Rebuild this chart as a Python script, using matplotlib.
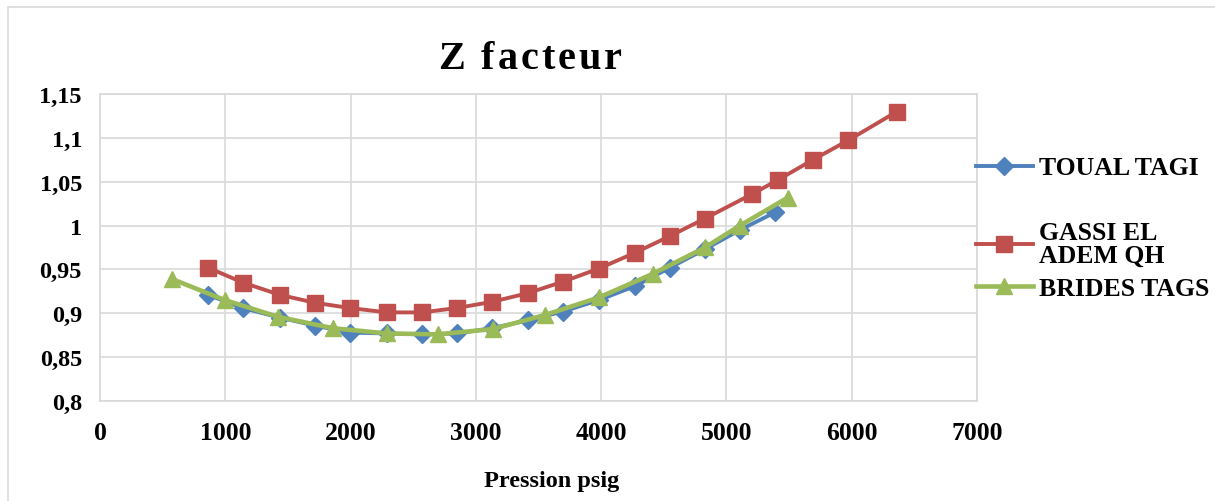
import matplotlib
matplotlib.use("Agg")
import matplotlib.pyplot as plt
from matplotlib.patches import Rectangle
from matplotlib.font_manager import FontProperties, findfont, get_font

# ---- data ----
toual_p = [862, 1141, 1436, 1716, 1995, 2290, 2570, 2849, 3128, 3416, 3695, 3982, 4270, 4549, 4828, 5108, 5387]
toual_z = [0.921, 0.906, 0.895, 0.886, 0.878, 0.877, 0.876, 0.877, 0.883, 0.892, 0.902, 0.915, 0.931, 0.952, 0.973, 0.995, 1.015]

gassi_p = [862, 1141, 1436, 1716, 1995, 2290, 2570, 2849, 3128, 3416, 3695, 3982, 4270, 4549, 4828, 5207, 5411, 5690, 5970, 6361]
gassi_z = [0.952, 0.935, 0.921, 0.912, 0.906, 0.901, 0.901, 0.906, 0.913, 0.923, 0.936, 0.951, 0.969, 0.988, 1.008, 1.036, 1.052, 1.075, 1.097, 1.130]

brides_p = [575, 998, 1420, 1860, 2290, 2697, 3135, 3551, 3982, 4413, 4828, 5108, 5491]
brides_z = [0.939, 0.915, 0.896, 0.883, 0.877, 0.876, 0.882, 0.898, 0.918, 0.945, 0.975, 1.000, 1.032]

series_names = ["TOUAL TAGI", "GASSI EL\nADEM QH", "BRIDES TAGS"]
x_ticks = [0, 1000, 2000, 3000, 4000, 5000, 6000, 7000]
y_ticks = [0.8, 0.85, 0.9, 0.95, 1.0, 1.05, 1.1, 1.15]
y_tick_labels = ["0,8", "0,85", "0,9", "0,95", "1", "1,05", "1,1", "1,15"]
title = "Z facteur"
x_label = "Pression psig"

# ---- figure ----
W, H = 1215, 502
DPI = 100
fig = plt.figure(figsize=(W / DPI, H / DPI), dpi=DPI)
fig.patches.append(Rectangle((8 / W, -0.5), 2, 1.5 - 8 / H, transform=fig.transFigure,
                             fill=False, edgecolor="#d9d9d9", linewidth=1.2))

ax = fig.add_axes([100 / W, 1 - 402 / H, (977 - 100) / W, (402 - 95) / H])

serif = "Liberation Serif"
l1, = ax.plot(toual_p, toual_z, color="#4f81bd", lw=2.8, marker="D", ms=9, label=series_names[0], zorder=3)
l2, = ax.plot(gassi_p, gassi_z, color="#c0504d", lw=2.8, marker="s", ms=11.5, label=series_names[1], zorder=3)
l3, = ax.plot(brides_p, brides_z, color="#9bbb59", lw=3.3, marker="^", ms=11.5, label=series_names[2], zorder=4)

ax.set_xlim(0, 7000)
ax.set_ylim(0.8, 1.15)
ax.set_xticks(x_ticks)
ax.set_xticklabels([str(t) for t in x_ticks])
ax.set_yticks(y_ticks)
ax.set_yticklabels(y_tick_labels)
ax.grid(True, color="#d9d9d9", lw=1.2)
ax.set_axisbelow(True)
for s in ax.spines.values():
    s.set_color("#d9d9d9")
    s.set_linewidth(1.2)
ax.tick_params(length=0)
ax.tick_params(axis="x", pad=14.5, labelsize=18.5)
ax.tick_params(axis="y", pad=13, labelsize=17.5)
for lab in ax.get_xticklabels() + ax.get_yticklabels():
    lab.set_fontfamily(serif)
    lab.set_fontweight("bold")

# title with letter spacing
tsize = 29
fp = FontProperties(family=serif, weight="bold", size=tsize)
font = get_font(findfont(fp))
font.set_size(tsize, DPI)
adv_raw = [font.load_char(ord(c)).horiAdvance for c in title]
renderer = fig.canvas.get_renderer()
w_full, _, _ = renderer.get_text_width_height_descent(title, fp, ismath=False)
scale = w_full / sum(adv_raw)
adv = [a * scale for a in adv_raw]
x_start, x_end = 438, 622
sp = (x_end - x_start - sum(adv)) / (len(title) - 1)
x = x_start
for c, a in zip(title, adv):
    if c != " ":
        fig.text(x / W, 1 - 69 / H, c, ha="left", va="baseline", fontproperties=fp)
    x += a + sp

fig.text(552 / W, 1 - 487 / H, x_label, ha="center", va="baseline",
         fontsize=17.5, fontweight="bold", family=serif)

# legend entries
leg_props = {"family": serif, "weight": "bold", "size": 18.5}
leg_y = [169, 245, 289]
for line, name, yy in zip([l1, l2, l3], series_names, leg_y):
    lg = fig.legend(handles=[line], labels=[name], loc="center left",
                    bbox_to_anchor=(976 / W, 1 - yy / H), frameon=False, prop=leg_props,
                    handlelength=2.2, handletextpad=0.25, borderaxespad=0, borderpad=0)
    for t in lg.get_texts():
        t.set_linespacing(0.95)

fig.savefig("out.png", dpi=DPI)
